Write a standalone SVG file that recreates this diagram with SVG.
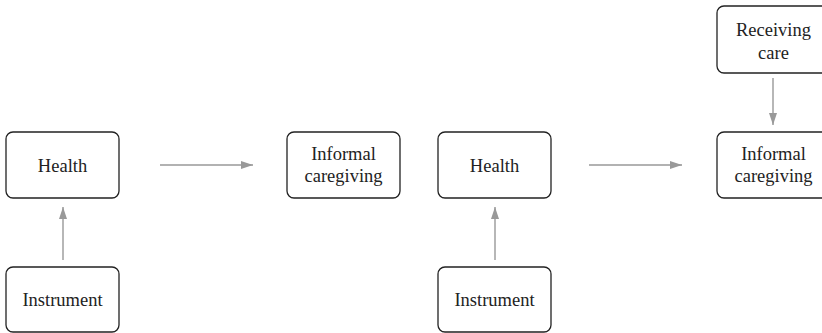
<svg xmlns="http://www.w3.org/2000/svg" width="822" height="333" viewBox="0 0 822 333">
<style>
.box{fill:#fff;stroke:#222;stroke-width:1.3}
.t{font-family:"Liberation Serif","Times New Roman",serif;font-size:18.5px;fill:#222;text-anchor:middle}
.c{stroke:#999;stroke-width:1.4;fill:none}
</style>
<defs>
<marker id="ah" markerWidth="12" markerHeight="8" refX="12" refY="4" orient="auto" markerUnits="userSpaceOnUse">
<path d="M0,0 L12,4 L0,8 Z" fill="#999"/>
</marker>
</defs>
<rect width="822" height="333" fill="#fff"/>
<g id="connectors">
<line class="c" x1="63" y1="260" x2="63" y2="207" marker-end="url(#ah)"/>
<line class="c" x1="160" y1="165" x2="253" y2="165" marker-end="url(#ah)"/>
<line class="c" x1="495" y1="260" x2="495" y2="207" marker-end="url(#ah)"/>
<line class="c" x1="589" y1="165" x2="682" y2="165" marker-end="url(#ah)"/>
<line class="c" x1="773" y1="78" x2="773" y2="125" marker-end="url(#ah)"/>
</g>
<g id="health1"><rect class="box" x="6" y="132" width="113" height="66" rx="7"/><text class="t" x="62.5" y="171.5">Health</text></g>
<g id="instrument1"><rect class="box" x="6" y="267" width="113" height="65" rx="7"/><text class="t" x="62.5" y="306">Instrument</text></g>
<g id="caregiving1"><rect class="box" x="287" y="132" width="113" height="66" rx="7"/><text class="t" x="343.5" y="159.5">Informal</text><text class="t" x="343.5" y="182">caregiving</text></g>
<g id="health2"><rect class="box" x="438" y="132" width="113" height="66" rx="7"/><text class="t" x="494.5" y="171.5">Health</text></g>
<g id="instrument2"><rect class="box" x="438" y="267" width="113" height="65" rx="7"/><text class="t" x="494.5" y="306">Instrument</text></g>
<g id="receiving"><rect class="box" x="717" y="6" width="113" height="67" rx="7"/><text class="t" x="773.5" y="36">Receiving</text><text class="t" x="773.5" y="58.5">care</text></g>
<g id="caregiving2"><rect class="box" x="717" y="132" width="113" height="66" rx="7"/><text class="t" x="773.5" y="159.5">Informal</text><text class="t" x="773.5" y="182">caregiving</text></g>
</svg>
